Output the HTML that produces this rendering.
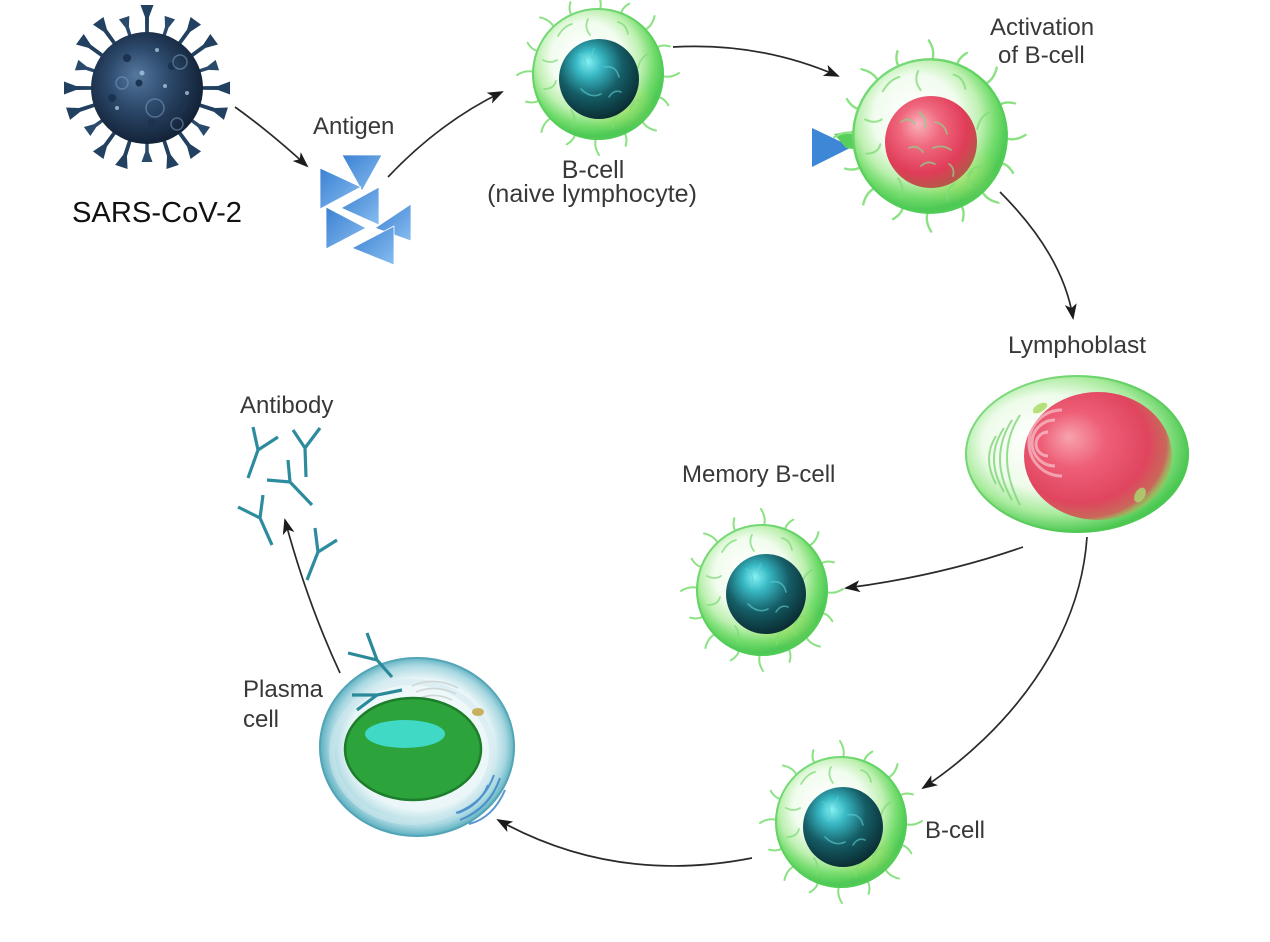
<!DOCTYPE html>
<html>
<head>
<meta charset="utf-8">
<style>
html,body{margin:0;padding:0;background:#fff;}
svg{display:block;}
text{font-family:"Liberation Sans",Arial,sans-serif;fill:#383838;}
</style>
</head>
<body>
<svg width="1270" height="942" viewBox="0 0 1270 942" xmlns="http://www.w3.org/2000/svg">
<defs>
  <radialGradient id="gBody" cx="0.45" cy="0.42" r="0.55" fx="0.38" fy="0.34">
    <stop offset="0" stop-color="#ffffff"/>
    <stop offset="0.5" stop-color="#f1fcee"/>
    <stop offset="0.72" stop-color="#bdf0b0"/>
    <stop offset="0.88" stop-color="#73dc6c"/>
    <stop offset="1" stop-color="#4ec955"/>
  </radialGradient>
  <radialGradient id="gYel" cx="0.5" cy="0.5" r="0.5">
    <stop offset="0" stop-color="#cfe66a" stop-opacity="0.55"/>
    <stop offset="1" stop-color="#cfe66a" stop-opacity="0"/>
  </radialGradient>
  <radialGradient id="gTeal" cx="0.42" cy="0.36" r="0.66" fx="0.36" fy="0.28">
    <stop offset="0" stop-color="#86f2f4"/>
    <stop offset="0.25" stop-color="#38b8c4"/>
    <stop offset="0.6" stop-color="#155d66"/>
    <stop offset="1" stop-color="#0a2b31"/>
  </radialGradient>
  <radialGradient id="gRed" cx="0.42" cy="0.38" r="0.62" fx="0.36" fy="0.3">
    <stop offset="0" stop-color="#fab2bb"/>
    <stop offset="0.35" stop-color="#f06a7f"/>
    <stop offset="0.78" stop-color="#e03c58"/>
    <stop offset="1" stop-color="#b8564a"/>
  </radialGradient>
  <radialGradient id="gRed2" cx="0.4" cy="0.42" r="0.62" fx="0.3" fy="0.35">
    <stop offset="0" stop-color="#f7a3ae"/>
    <stop offset="0.35" stop-color="#ee5f77"/>
    <stop offset="0.75" stop-color="#e0455e"/>
    <stop offset="0.92" stop-color="#c9685a"/>
    <stop offset="1" stop-color="#9ec057" stop-opacity="0.6"/>
  </radialGradient>
  <radialGradient id="gBlast" cx="0.45" cy="0.45" r="0.55" fx="0.3" fy="0.4">
    <stop offset="0" stop-color="#ffffff"/>
    <stop offset="0.55" stop-color="#eefbea"/>
    <stop offset="0.8" stop-color="#a8eb9c"/>
    <stop offset="1" stop-color="#4bc851"/>
  </radialGradient>
  <radialGradient id="gPlasma" cx="0.5" cy="0.5" r="0.52" fx="0.55" fy="0.45">
    <stop offset="0" stop-color="#ffffff"/>
    <stop offset="0.7" stop-color="#eaf6f8"/>
    <stop offset="0.86" stop-color="#a9d8e1"/>
    <stop offset="0.96" stop-color="#5aaebf"/>
    <stop offset="1" stop-color="#3f95a8"/>
  </radialGradient>
  <radialGradient id="gVirus" cx="0.45" cy="0.45" r="0.55" fx="0.4" fy="0.38">
    <stop offset="0" stop-color="#55789e"/>
    <stop offset="0.5" stop-color="#2c496b"/>
    <stop offset="1" stop-color="#132338"/>
  </radialGradient>
  <linearGradient id="gTri" x1="0" y1="0" x2="1" y2="1">
    <stop offset="0" stop-color="#3a80d2"/>
    <stop offset="1" stop-color="#88bdf0"/>
  </linearGradient>
  <marker id="ah" markerWidth="16" markerHeight="12" refX="14" refY="6" orient="auto" markerUnits="userSpaceOnUse">
    <path d="M0,0 L16,6 L0,12 L4,6 Z" fill="#1c1c1c"/>
  </marker>

  <path id="vsp" d="M-1.8,-50 L1.8,-50 L2,-71 L6.5,-83 L-6.5,-83 L-2,-71 Z" fill="#22405f"/>
  <path id="vsp2" d="M-1.6,-50 L1.6,-50 L1.8,-64 L5.5,-74 L-5.5,-74 L-1.8,-64 Z" fill="#2a4a6c"/>
  <g id="vspikes">
    <use href="#vsp" transform="rotate(0)"/><use href="#vsp2" transform="rotate(18)"/>
    <use href="#vsp" transform="rotate(36)"/><use href="#vsp" transform="rotate(54)"/>
    <use href="#vsp2" transform="rotate(72)"/><use href="#vsp" transform="rotate(90)"/>
    <use href="#vsp" transform="rotate(108)"/><use href="#vsp2" transform="rotate(126)"/>
    <use href="#vsp" transform="rotate(144)"/><use href="#vsp" transform="rotate(162)"/>
    <use href="#vsp2" transform="rotate(180)"/><use href="#vsp" transform="rotate(198)"/>
    <use href="#vsp" transform="rotate(216)"/><use href="#vsp2" transform="rotate(234)"/>
    <use href="#vsp" transform="rotate(252)"/><use href="#vsp" transform="rotate(270)"/>
    <use href="#vsp2" transform="rotate(288)"/><use href="#vsp" transform="rotate(306)"/>
    <use href="#vsp" transform="rotate(324)"/><use href="#vsp2" transform="rotate(342)"/>
  </g>

  <path id="csp" d="M0,-60 Q6,-70 -1,-81" fill="none" stroke="#8ae282" stroke-width="2" stroke-linecap="round"/>
  <path id="csp2" d="M0,-60 Q-5,-68 2,-77" fill="none" stroke="#8ae282" stroke-width="2" stroke-linecap="round"/>
  <g id="cspikes">
    <use href="#csp" transform="rotate(0)"/><use href="#csp2" transform="rotate(22.5)"/>
    <use href="#csp" transform="rotate(45)"/><use href="#csp2" transform="rotate(67.5)"/>
    <use href="#csp" transform="rotate(90)"/><use href="#csp2" transform="rotate(112.5)"/>
    <use href="#csp" transform="rotate(135)"/><use href="#csp2" transform="rotate(157.5)"/>
    <use href="#csp" transform="rotate(180)"/><use href="#csp2" transform="rotate(202.5)"/>
    <use href="#csp" transform="rotate(225)"/><use href="#csp2" transform="rotate(247.5)"/>
    <use href="#csp" transform="rotate(270)"/><use href="#csp2" transform="rotate(292.5)"/>
    <use href="#csp" transform="rotate(315)"/><use href="#csp2" transform="rotate(337.5)"/>
  </g>

  <g id="cellbody">
    <use href="#cspikes"/>
    <circle r="66" fill="url(#gBody)"/>
    <ellipse cx="18" cy="30" rx="40" ry="28" fill="url(#gYel)"/>
    <circle r="65" fill="none" stroke="#52cd58" stroke-width="2" opacity="0.7"/>
    <g fill="none" stroke="#80dc78" stroke-width="1.8" opacity="0.75" stroke-linecap="round">
      <path d="M-40,-38 q6,-10 14,-12"/>
      <path d="M-10,-55 q-4,8 2,16"/>
      <path d="M20,-52 q8,2 10,12"/>
      <path d="M50,-20 q-8,4 -10,14"/>
      <path d="M46,26 q-10,-2 -14,8"/>
      <path d="M15,54 q-2,-8 6,-14"/>
      <path d="M-25,52 q4,-8 -2,-16"/>
      <path d="M-54,15 q10,0 12,-8"/>
      <path d="M-55,-14 q8,4 14,0"/>
      <path d="M34,44 q-4,-8 2,-14"/>
    </g>
  </g>

  <g id="tealnuc">
    <circle r="40" fill="url(#gTeal)"/>
    <g fill="none" stroke="#5fcfd2" stroke-width="1.6" opacity="0.6" stroke-linecap="round">
      <path d="M-20,-25 q10,5 5,18"/>
      <path d="M5,-12 q12,-2 15,10"/>
      <path d="M-18,10 q10,10 20,5"/>
      <path d="M10,18 q5,-8 12,-5"/>
      <path d="M-5,-30 q-6,10 4,14"/>
    </g>
  </g>
</defs>

<rect width="1270" height="942" fill="#ffffff"/>

<!-- Virus -->
<g transform="translate(147,88)">
  <use href="#vspikes"/>
  <circle r="56" fill="url(#gVirus)"/>
  <g fill="#1b3250">
    <circle cx="-20" cy="-30" r="4"/><circle cx="25" cy="-22" r="4"/>
    <circle cx="-35" cy="10" r="4"/><circle cx="5" cy="35" r="4"/>
    <circle cx="35" cy="20" r="4"/><circle cx="-8" cy="-5" r="3.5"/>
  </g>
  <g fill="none" stroke="#7b9cc0" stroke-width="1.5" opacity="0.55">
    <circle cx="8" cy="20" r="9"/>
    <circle cx="-25" cy="-5" r="6"/>
    <circle cx="33" cy="-26" r="7"/>
    <circle cx="30" cy="36" r="6"/>
  </g>
  <g fill="#a9c4de" opacity="0.8">
    <circle cx="-5" cy="-15" r="2.5"/>
    <circle cx="18" cy="-2" r="2"/>
    <circle cx="-30" cy="20" r="2"/>
    <circle cx="10" cy="-38" r="2"/>
    <circle cx="40" cy="5" r="2"/>
  </g>
</g>
<text x="72" y="222" font-size="29" textLength="170" lengthAdjust="spacingAndGlyphs" style="fill:#111">SARS-CoV-2</text>

<!-- Antigen -->
<text x="313" y="134" font-size="24">Antigen</text>
<g fill="url(#gTri)" stroke="#ffffff" stroke-width="0.8" stroke-linejoin="round">
  <polygon points="342,155 382,155 362,191"/>
  <polygon points="320,168 320,209 361,187"/>
  <polygon points="379,187 379,225 341,208"/>
  <polygon points="326,207 326,249 366,228"/>
  <polygon points="411,204 411,241 375,228"/>
  <polygon points="394,226 394,265 352,248"/>
</g>

<!-- Arrows -->
<g fill="none" stroke="#2a2a2a" stroke-width="1.7">
  <path d="M235,107 Q270,132 307,166" marker-end="url(#ah)"/>
  <path d="M388,177 Q440,122 502,92" marker-end="url(#ah)"/>
  <path d="M673,47 Q760,42 838,76" marker-end="url(#ah)"/>
  <path d="M1000,192 Q1063,255 1073,318" marker-end="url(#ah)"/>
  <path d="M1023,547 Q940,576 846,588" marker-end="url(#ah)"/>
  <path d="M1087,537 C1080,640 1010,730 923,788" marker-end="url(#ah)"/>
  <path d="M752,858 Q615,885 498,820" marker-end="url(#ah)"/>
  <path d="M340,673 Q307,602 285,520" marker-end="url(#ah)"/>
</g>

<!-- Top B-cell -->
<g transform="translate(598,74)">
  <use href="#cellbody"/>
  <use href="#tealnuc" transform="translate(1,5)"/>
</g>
<text x="593" y="178" font-size="25" text-anchor="middle">B-cell</text>
<text x="592" y="202" font-size="25" text-anchor="middle">(naive lymphocyte)</text>

<!-- Activation cell -->
<polygon points="812,128 812,167 852,147" fill="#3d87d6"/>
<polygon points="834,134 866,129 866,151 846,148" fill="#58cf5c"/>
<g transform="translate(930,136) scale(1.18)">
  <use href="#cellbody"/>
</g>
<g transform="translate(931,142)">
  <circle r="46" fill="url(#gRed)"/>
  <g fill="none" stroke="#8fcf8c" stroke-width="1.8" opacity="0.75" stroke-linecap="round">
    <path d="M-30,-20 q8,-6 14,2"/>
    <path d="M-12,-30 q8,6 6,16"/>
    <path d="M4,-20 q10,2 12,12"/>
    <path d="M-22,6 q8,-4 14,4"/>
    <path d="M2,6 q10,-4 18,2"/>
    <path d="M-10,24 q6,-6 14,-2"/>
    <path d="M18,22 q6,4 4,12"/>
  </g>
</g>
<text x="990" y="35" font-size="24">Activation</text>
<text x="998" y="63" font-size="24">of B-cell</text>

<!-- Lymphoblast -->
<text x="1008" y="353" font-size="24.5">Lymphoblast</text>
<ellipse cx="1077" cy="454" rx="112" ry="79" fill="url(#gBlast)"/>
<ellipse cx="1077" cy="454" rx="111" ry="78" fill="none" stroke="#4ec854" stroke-width="2" opacity="0.6"/>
<g fill="none" stroke="#7fd678" stroke-width="2" opacity="0.8">
  <path d="M1020,415 q-26,40 0,90"/>
  <path d="M1012,420 q-24,38 0,80"/>
  <path d="M1004,428 q-20,30 0,64"/>
  <path d="M996,436 q-14,22 0,48"/>
</g>
<ellipse cx="1040" cy="408" rx="8" ry="4" fill="#b6e07a" transform="rotate(-30 1040 408)"/>
<ellipse cx="1098" cy="456" rx="74" ry="64" fill="url(#gRed2)"/>
<g fill="none" stroke="#ffffff" stroke-width="3" opacity="0.45">
  <path d="M1048,432 a12,12 0 1 0 0,24"/>
  <path d="M1055,420 a22,22 0 1 0 0,46"/>
  <path d="M1062,410 a32,32 0 1 0 0,66"/>
</g>
<ellipse cx="1140" cy="495" rx="5" ry="8" fill="#a8dc70" opacity="0.8" transform="rotate(30 1140 495)"/>

<!-- Memory B-cell -->
<text x="682" y="482" font-size="24">Memory B-cell</text>
<g transform="translate(762,590)">
  <use href="#cellbody"/>
  <use href="#tealnuc" transform="translate(4,4)"/>
</g>

<!-- Bottom B-cell -->
<g transform="translate(841,822)">
  <use href="#cellbody"/>
  <use href="#tealnuc" transform="translate(2,5)"/>
</g>
<text x="925" y="838" font-size="24">B-cell</text>

<!-- Plasma cell -->
<text x="243" y="697" font-size="24">Plasma</text>
<text x="243" y="727" font-size="24">cell</text>
<ellipse cx="417" cy="747" rx="98" ry="90" fill="url(#gPlasma)"/>
<ellipse cx="417" cy="747" rx="97" ry="89" fill="none" stroke="#4d9fb1" stroke-width="2" opacity="0.7"/>
<ellipse cx="412" cy="752" rx="80" ry="70" fill="none" stroke="#cfe8ee" stroke-width="6" opacity="0.5"/>
<g fill="none" stroke="#cfd6d8" stroke-width="1.6">
  <path d="M412,686 q22,-10 46,2"/>
  <path d="M416,692 q20,-8 40,2"/>
  <path d="M420,698 q16,-6 32,2"/>
  <path d="M424,704 q12,-4 24,2"/>
</g>
<g fill="none" stroke="#3f86c8" stroke-width="2" opacity="0.85">
  <path d="M500,778 q-10,30 -40,42"/>
  <path d="M494,775 q-10,28 -38,38"/>
  <path d="M505,790 q-12,28 -36,34"/>
  <path d="M488,785 q-8,20 -30,28"/>
</g>
<ellipse cx="478" cy="712" rx="6" ry="4" fill="#c8b060"/>
<ellipse cx="388" cy="771" rx="6" ry="3" fill="#c8b060"/>
<ellipse cx="413" cy="749" rx="68" ry="51" fill="#2da33b" stroke="#1c7d2b" stroke-width="2.5"/>
<ellipse cx="405" cy="734" rx="40" ry="14" fill="#3fd9c6"/>
<g fill="none" stroke="#2a8a9a" stroke-width="3.2" stroke-linecap="butt">
  <path d="M367,633 L377,660 L348,653 M377,660 L392,677"/>
  <path d="M352,695 L377,695 L402,690 M377,695 L357,710"/>
</g>

<!-- Antibodies -->
<text x="240" y="413" font-size="24">Antibody</text>
<g fill="none" stroke="#2c8c9e" stroke-width="3.2" stroke-linecap="butt">
  <path d="M253,427 L258,450 L278,437 M258,450 L248,478"/>
  <path d="M293,430 L305,448 L320,428 M305,448 L306,477"/>
  <path d="M288,460 L290,482 L267,480 M290,482 L312,505"/>
  <path d="M238,507 L260,518 L263,495 M260,518 L272,545"/>
  <path d="M315,528 L318,552 L337,540 M318,552 L307,580"/>
</g>
</svg>
</body>
</html>
